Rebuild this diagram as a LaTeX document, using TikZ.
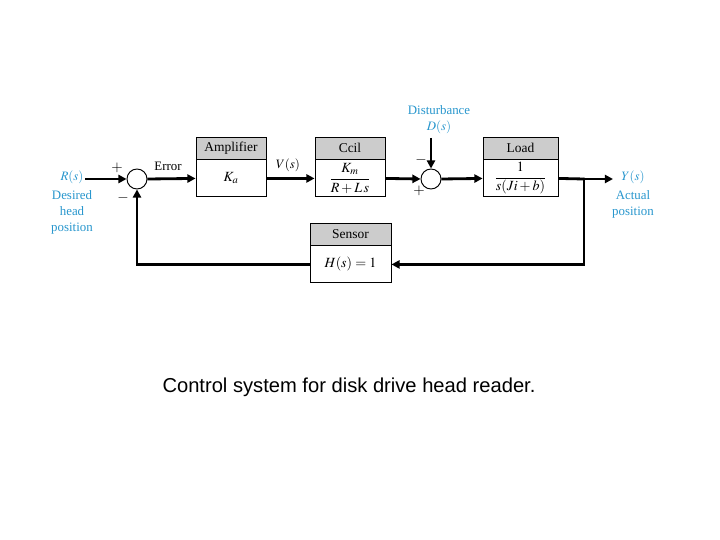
\documentclass[tikz,border=0pt]{standalone}
\usepackage{mathptmx}
\usepackage{fontspec}
\setmainfont{Liberation Serif}
\newfontfamily\captionfont{Liberation Sans}
\usetikzlibrary{arrows.meta,positioning}
\definecolor{sigblue}{RGB}{40,150,205}
\tikzset{
  blockhead/.style={draw, line width=0.8pt, fill=gray!40, minimum height=0.66cm, inner sep=0pt, font=\fontsize{11.5}{13}\selectfont},
  blockbody/.style={draw, line width=0.8pt, fill=white, minimum height=1.11cm, inner sep=0pt, font=\fontsize{12}{13}\selectfont},
  junction/.style={draw, circle, line width=0.8pt, minimum size=0.6cm, inner sep=0pt},
  signal/.style={line width=2.4pt, -{Triangle[length=7pt,width=7pt]}},
  plainline/.style={line width=2.4pt},
  sign/.style={font=\fontsize{12.5}{13}\selectfont, inner sep=0pt},
  bluetext/.style={text=sigblue, align=center, inner sep=0pt, font=\fontsize{11}{13.6}\selectfont},
  labeltext/.style={inner sep=0pt, font=\fontsize{11}{12}\selectfont}
}
\begin{document}
\begin{tikzpicture}[x=0.03cm,y=-0.03cm]
\useasboundingbox (0,0) rectangle (720,540);

% blocks
\node[blockhead, minimum width=2.1cm] (amphead) at (231,148) {Amplifier};
\node[blockbody, minimum width=2.1cm, below=0pt of amphead] (amp) {$K_a$};
\node[blockhead, minimum width=2.1cm] (coilhead) at (350,148) {Ccil};
\node[blockbody, minimum width=2.1cm, below=0pt of coilhead] (coil) {$\displaystyle\frac{K_m}{R+L\,s}$};
\node[blockhead, minimum width=2.25cm] (loadhead) at (520.5,148) {Load};
\node[blockbody, minimum width=2.25cm, below=0pt of loadhead] (load) {$\displaystyle\frac{1}{s(Ji+b)}$};
\node[blockhead, minimum width=2.43cm] (senshead) at (350.5,234) {Sensor};
\node[blockbody, minimum width=2.43cm, below=0pt of senshead] (sens) {$H(s)=1$};

% summing points
\node[junction] (sum1) at (137,179) {};
\node[junction] (sum2) at (431,179) {};

% signal ends
\coordinate (rin) at (85,179);
\coordinate (dtop) at (431,138);
\coordinate (branch) at (584,179);
\coordinate (yout) at (613,179);

% texts
\node[bluetext] (rlab) at (72,177) {$R(s)$};
\node[bluetext] (desired) at (72,212) {Desired\\head\\position};
\node[bluetext] (dist) at (439,120) {Disturbance\\$D(s)$};
\node[bluetext] (ylab) at (633,177) {$Y(s)$};
\node[bluetext] (actual) at (633,204) {Actual\\position};
\node[labeltext] (error) at (168,166) {Error};
\node[labeltext] (vlab) at (288,165) {$V(s)$};
\node[sign] (plusA) at (117,168) {$+$};
\node[sign] (minusA) at (123,198) {$-$};
\node[sign] (minusB) at (421,160) {$-$};
\node[sign] (plusB) at (419,191) {$+$};

% connectors
\draw[signal] (rin) -- (sum1.west);
\draw[signal] (sum1.east) -- (amp.west);
\draw[signal] (amp.east) -- (coil.west);
\draw[signal] (coil.east) -- (sum2.west);
\draw[signal] (dtop) -- (sum2.north);
\draw[signal] (sum2.east) -- (load.west);
\draw[plainline] (load.east) -- (branch);
\draw[signal] (branch) -- (yout);
\draw[signal] (branch) |- (sens.east);
\draw[signal] (sens.west) -| (sum1.south);
\fill (branch) circle (1.5);

\node[font=\captionfont\fontsize{17.2}{20}\selectfont] (caption) at (349,387) {Control system for disk drive head reader.};
\end{tikzpicture}
\end{document}
